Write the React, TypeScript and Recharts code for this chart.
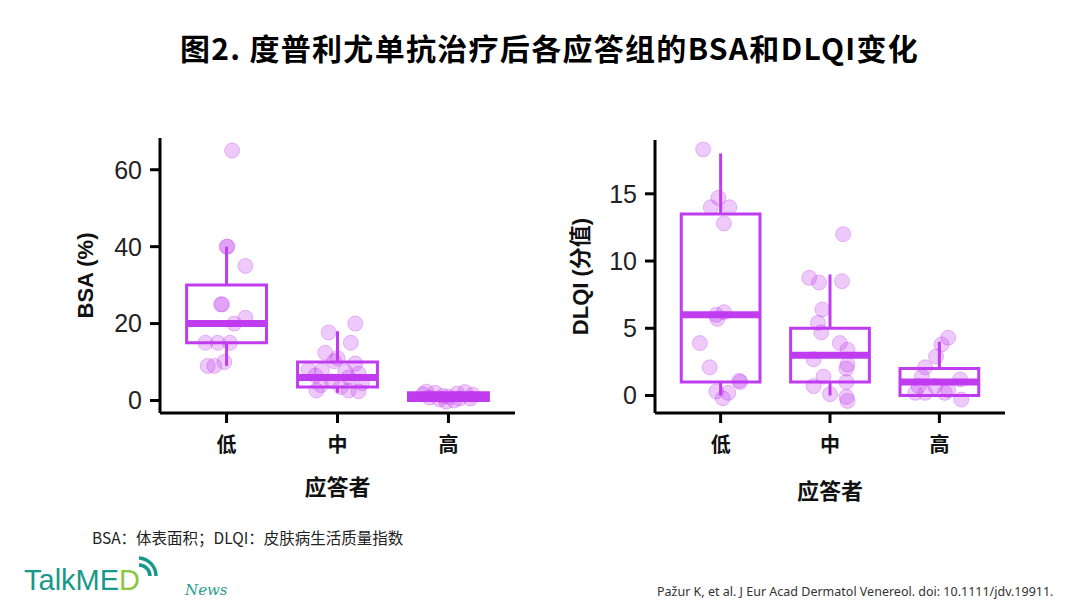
import React from 'react';
import { ScatterChart, Scatter, XAxis, YAxis, ReferenceArea, ReferenceLine, Label } from 'recharts';

// categories (responder groups)
const categories = ['低', '中', '高'];

// BSA (%) jittered points, per group: values and horizontal jitter
const bsaLowValues = [65, 40, 40, 35, 25, 25, 21.5, 20, 15, 15, 15, 10, 9, 9];
const bsaLowJitter = [0.05, 0.01, 0.0, 0.17, -0.05, -0.04, 0.17, 0.07, -0.19, -0.08, 0.03, -0.02, -0.17, -0.11];
const bsaMidValues = [20, 17.7, 15, 12.4, 11, 10.2, 9.6, 8, 7.8, 7.5, 7, 6.5, 6, 5, 4.5, 4, 3.5, 2.6, 2.6, 2.4];
const bsaMidJitter = [0.16, -0.08, 0.12, -0.11, 0.0, -0.03, 0.16, -0.26, -0.14, 0.07, 0.19, -0.2, 0.1, -0.05, 0.22, -0.15, 0.03, -0.19, 0.1, 0.19];
const bsaHighValues = [2.3, 2.0, 1.8, 2.2, 1.5, 1.2, 1.0, 0.8, 0.5, 0.3, 0.0, -0.3, 0.5, 1.6];
const bsaHighJitter = [-0.2, -0.12, 0.08, 0.15, 0.22, -0.05, 0.0, -0.17, 0.1, -0.08, 0.05, -0.02, 0.2, -0.23];

// BSA box stats (低, 中, 高)
const bsaLowerWhisker = [9, 2, 0];
const bsaQ1 = [15, 3.5, 0];
const bsaMedian = [20, 6, 1];
const bsaQ3 = [30, 10, 2];
const bsaUpperWhisker = [40, 18, 2];

// DLQI points
const dlqiLowValues = [18.3, 14.7, 14.0, 14.0, 12.8, 6.2, 6.0, 5.7, 3.9, 2.1, 1.1, 1.0, 0.3, 0.2, -0.2];
const dlqiLowJitter = [-0.16, -0.02, -0.09, 0.08, 0.03, 0.03, -0.04, -0.03, -0.19, -0.1, 0.17, 0.18, -0.04, 0.07, 0.02];
const dlqiMidValues = [12.0, 8.75, 8.4, 8.5, 6.4, 5.4, 4.7, 3.9, 3.4, 2.7, 2.3, 2.0, 1.4, 1.0, 0.7, 0.1, -0.1, -0.4];
const dlqiMidJitter = [0.12, -0.19, -0.1, 0.11, -0.07, -0.11, -0.08, 0.09, 0.16, -0.15, 0.16, 0.15, -0.06, 0.15, -0.15, 0.0, 0.15, 0.16];
const dlqiHighValues = [4.3, 3.8, 2.9, 2.1, 1.4, 1.2, 0.7, 0.7, 0.4, 0.2, 0.2, -0.3, 0.2];
const dlqiHighJitter = [0.08, 0.02, -0.03, -0.13, -0.16, 0.19, -0.19, -0.04, 0.08, -0.13, 0.05, 0.2, -0.22];

// DLQI box stats
const dlqiLowerWhisker = [0, 0, 0];
const dlqiQ1 = [1, 1, 0];
const dlqiMedian = [6, 3, 1];
const dlqiQ3 = [13.5, 5, 2];
const dlqiUpperWhisker = [18, 9, 4];

const bsaTicks = [0, 20, 40, 60];
const dlqiTicks = [0, 5, 10, 15];

const PURPLE = '#C03CEF';
const BOX_HALF = 0.36;
const NUM_FONT = '"Liberation Sans", Arial, sans-serif';
const CJK_FONT = '"Liberation Sans", "Noto Sans CJK SC", sans-serif';

const toPoints = (groups: number[][], jitters: number[][]) =>
    groups.flatMap((vals, g) => vals.map((v, i) => ({ x: g + 1 + jitters[g][i], y: v })));

const bsaPoints = toPoints([bsaLowValues, bsaMidValues, bsaHighValues], [bsaLowJitter, bsaMidJitter, bsaHighJitter]);
const dlqiPoints = toPoints([dlqiLowValues, dlqiMidValues, dlqiHighValues], [dlqiLowJitter, dlqiMidJitter, dlqiHighJitter]);

const Dot = (props: any) => (
    <circle cx={props.cx} cy={props.cy} r={7.5} fill="rgba(192,60,239,0.27)" stroke="rgba(192,60,239,0.32)" strokeWidth={1} />
);

const boxes = (id: string, lo: number[], q1: number[], med: number[], q3: number[], hi: number[]) =>
    categories.flatMap((_, i) => {
        const c = i + 1;
        return [
            <ReferenceLine key={`${id}-uw${i}`} segment={[{ x: c, y: q3[i] }, { x: c, y: hi[i] }]} stroke={PURPLE} strokeWidth={3} />,
            <ReferenceLine key={`${id}-lw${i}`} segment={[{ x: c, y: lo[i] }, { x: c, y: q1[i] }]} stroke={PURPLE} strokeWidth={3} />,
            <ReferenceArea key={`${id}-box${i}`} x1={c - BOX_HALF} x2={c + BOX_HALF} y1={q1[i]} y2={q3[i]}
                fill="none" fillOpacity={0} stroke={PURPLE} strokeWidth={3} strokeOpacity={1} />,
            <ReferenceLine key={`${id}-med${i}`} segment={[{ x: c - BOX_HALF, y: med[i] }, { x: c + BOX_HALF, y: med[i] }]} stroke={PURPLE} strokeWidth={7} />,
        ];
    });

interface PanelProps {
    points: { x: number, y: number }[];
    domain: [number, number];
    ticks: number[];
    yLabel: string;
    id: string;
    box: React.ReactNode[];
    width: number;
    right: number;
    top: number;
    xLabelOffset: number;
}

const Panel: React.FC<PanelProps> = ({ points, domain, ticks, yLabel, id, box, width, right, top, xLabelOffset }) => (
    <ScatterChart width={width} height={400} margin={{ top, right, left: 20, bottom: 17 }}>
        <XAxis
            type="number" dataKey="x" domain={[0.4, 3.6]} ticks={[1, 2, 3]} allowDataOverflow
            tickFormatter={(v: number) => categories[v - 1]}
            height={90} tickSize={10} tickMargin={15}
            axisLine={{ stroke: '#000', strokeWidth: 3 }} tickLine={{ stroke: '#000', strokeWidth: 3 }}
            tick={{ fontSize: 20, fontWeight: 700, fill: '#111', fontFamily: CJK_FONT }}
        >
            <Label value="应答者" position="insideBottom" offset={xLabelOffset}
                style={{ fontSize: 22, fontWeight: 700, fill: '#111', fontFamily: CJK_FONT }} />
        </XAxis>
        <YAxis
            type="number" dataKey="y" domain={domain} ticks={ticks} allowDataOverflow
            width={80} tickSize={10} tickMargin={8}
            axisLine={{ stroke: '#000', strokeWidth: 3 }} tickLine={{ stroke: '#000', strokeWidth: 3 }}
            tick={{ fontSize: 25, fill: '#222', fontFamily: NUM_FONT }}
        >
            <Label value={yLabel} angle={-90} position="insideLeft" offset={5}
                style={{ textAnchor: 'middle', fontSize: 22, fontWeight: 700, fill: '#111', fontFamily: CJK_FONT }} />
        </YAxis>
        {box}
        <Scatter data={points} shape={<Dot />} isAnimationActive={false} key={id} />
    </ScatterChart>
);

export default function App() {
    return (
        <div style={{ position: 'absolute', left: 0, top: 0, width: 1080, height: 608, background: '#fff', overflow: 'hidden' }}>
            <div style={{
                position: 'absolute', left: 180, top: 29, whiteSpace: 'nowrap',
                fontSize: 30, fontWeight: 700, lineHeight: '36px', color: '#000', letterSpacing: 1.3,
                fontFamily: '"Noto Sans CJK SC", "Liberation Sans", sans-serif',
            }}>
                图2. 度普利尤单抗治疗后各应答组的BSA和DLQI变化
            </div>

            <div style={{ position: 'absolute', left: 60, top: 120 }}>
                <Panel id="bsa" points={bsaPoints} domain={[-3.25, 68.25]} ticks={bsaTicks} yLabel="BSA (%)"
                    box={boxes('bsa', bsaLowerWhisker, bsaQ1, bsaMedian, bsaQ3, bsaUpperWhisker)}
                    width={470} right={15} top={18} xLabelOffset={8} />
            </div>
            <div style={{ position: 'absolute', left: 555, top: 120 }}>
                <Panel id="dlqi" points={dlqiPoints} domain={[-1.3, 19.0]} ticks={dlqiTicks} yLabel="DLQI (分值)"
                    box={boxes('dlqi', dlqiLowerWhisker, dlqiQ1, dlqiMedian, dlqiQ3, dlqiUpperWhisker)}
                    width={460} right={10} top={20} xLabelOffset={4} />
            </div>

            <div style={{
                position: 'absolute', left: 92, top: 527, whiteSpace: 'nowrap', fontSize: 15.5, color: '#222',
                fontFamily: '"Noto Sans CJK SC", sans-serif', lineHeight: '20px',
            }}>
                BSA：体表面积；DLQI：皮肤病生活质量指数
            </div>

            <div style={{ position: 'absolute', left: 24, top: 562, whiteSpace: 'nowrap', lineHeight: '36px', fontFamily: NUM_FONT, fontSize: 29 }}>
                <span style={{ color: '#17998A' }}>TalkME</span><span style={{ color: '#8CC63F' }}>D</span>
                <svg width={22} height={26} style={{ position: 'absolute', left: 112, top: -6 }}>
                    <path d="M3 9 A 11 11 0 0 1 14 20" fill="none" stroke="#17998A" strokeWidth={3.5} />
                    <path d="M3 2 A 18 18 0 0 1 20 20" fill="none" stroke="#17998A" strokeWidth={3.5} />
                </svg>
            </div>
            <div style={{
                position: 'absolute', left: 185, top: 580, fontSize: 15, fontStyle: 'italic', color: '#2A9D8F',
                fontFamily: '"DejaVu Serif", serif', lineHeight: '20px',
            }}>
                News
            </div>

            <div style={{
                position: 'absolute', left: 657, top: 583, whiteSpace: 'nowrap', fontSize: 12.5, color: '#333',
                fontFamily: '"Noto Sans", "Open Sans", sans-serif', lineHeight: '18px',
            }}>
                Pažur K, et al. J Eur Acad Dermatol Venereol. doi: 10.1111/jdv.19911.
            </div>
        </div>
    );
}
